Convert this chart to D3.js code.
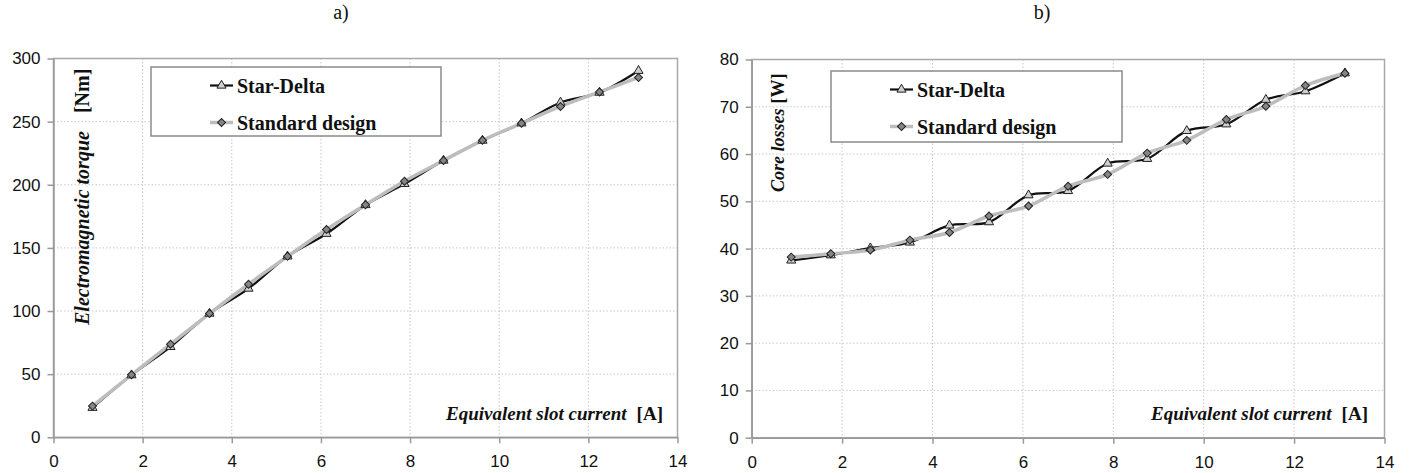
<!DOCTYPE html>
<html>
<head>
<meta charset="utf-8">
<script src="https://cdn.jsdelivr.net/npm/d3@7/dist/d3.min.js"></script>
<style>
  html, body { margin: 0; padding: 0; background: #fff; }
  svg { display: block; }
</style>
</head>
<body>
<svg id="chart" width="1410" height="473"></svg>
<script>
// ---- data ----
const slotCurrent = [0.875, 1.75, 2.625, 3.5, 4.375, 5.25, 6.125, 7.0, 7.875, 8.75, 9.625, 10.5, 11.375, 12.25, 13.125];
const torqueStarDelta = [23.4, 49.2, 71.6, 98.0, 117.8, 143.3, 161.2, 184.0, 200.7, 219.2, 235.0, 248.7, 265.2, 273.0, 290.3];
const torqueStandard  = [24.7, 49.5, 73.7, 98.0, 121.2, 143.3, 164.6, 184.2, 202.8, 219.2, 235.2, 248.7, 262.0, 273.5, 285.0];
const lossStarDelta = [37.5, 38.6, 40.1, 41.3, 44.9, 45.6, 51.3, 52.2, 58.0, 59.0, 64.9, 66.3, 71.5, 73.3, 77.1];
const lossStandard  = [38.2, 38.9, 39.7, 41.8, 43.4, 46.9, 49.0, 53.2, 55.7, 60.2, 62.9, 67.3, 70.1, 74.5, 77.1];
const xTicks = [0, 2, 4, 6, 8, 10, 12, 14];
const torqueTicks = [0, 50, 100, 150, 200, 250, 300];
const lossTicks = [0, 10, 20, 30, 40, 50, 60, 70, 80];
const seriesNames = ["Star-Delta", "Standard design"];
const panelTitles = ["a)", "b)"];
const yTitles = [["Electromagnetic torque", "[Nm]"], ["Core losses", "[W]"]];
const xTitle = ["Equivalent slot current", "[A]"];

// ---- layout ----
const panels = [
  { title: panelTitles[0], titleX: 341, x0: 53.5, x1: 677.5, yTop: 58.5, yBot: 437.3,
    ticks: torqueTicks, sd: torqueStarDelta, st: torqueStandard, yTitle: yTitles[0], yTitleSize: 20, yGap: 18,
    yTitleX: 89, yTitleY: 325, legend: { x: 151, y: 67, w: 290, h: 69 }, xTitleEnd: 663 },
  { title: panelTitles[1], titleX: 1042, x0: 751.7, x1: 1384.5, yTop: 59.5, yBot: 437.7,
    ticks: lossTicks, sd: lossStarDelta, st: lossStandard, yTitle: yTitles[1], yTitleSize: 18, yGap: 5,
    yTitleX: 784, yTitleY: 192, legend: { x: 831, y: 71, w: 291, h: 71 }, xTitleEnd: 1368 }
];

const svg = d3.select("#chart");
svg.append("rect").attr("width", 1410).attr("height", 473).attr("fill", "#fff");

const serif = "'Liberation Serif', 'Times New Roman', serif";
const sans = "'Liberation Sans', Arial, sans-serif";

const triSym = d3.symbol().type(d3.symbolTriangle).size(36);
const diaSym = d3.symbol().type(d3.symbolSquare).size(32);

function drawTri(g, x, y) {
  g.append("path").attr("d", triSym()).attr("transform", `translate(${x},${y})`)
    .attr("fill", "#cfcfcf").attr("stroke", "#222").attr("stroke-width", 1);
}
function drawDia(g, x, y) {
  g.append("path").attr("d", diaSym()).attr("transform", `translate(${x},${y}) rotate(45)`)
    .attr("fill", "#858585").attr("stroke", "#222").attr("stroke-width", 1);
}

panels.forEach(p => {
  const g = svg.append("g");
  const x = d3.scaleLinear().domain([0, 14]).range([p.x0, p.x1]);
  const y = d3.scaleLinear().domain([0, p.ticks[p.ticks.length - 1]]).range([p.yBot, p.yTop]);

  // title
  g.append("text").attr("x", p.titleX).attr("y", 19).attr("text-anchor", "middle")
    .attr("font-family", serif).attr("font-size", 20).attr("fill", "#111").text(p.title);

  // grid
  const grid = g.append("g").attr("stroke", "#c8c8c8").attr("stroke-width", 1).attr("stroke-dasharray", "1.5,2");
  xTicks.slice(1, -1).forEach(t => grid.append("line").attr("x1", x(t)).attr("x2", x(t)).attr("y1", p.yTop).attr("y2", p.yBot));
  p.ticks.slice(1, -1).forEach(t => grid.append("line").attr("x1", p.x0).attr("x2", p.x1).attr("y1", y(t)).attr("y2", y(t)));

  // plot border
  g.append("rect").attr("x", p.x0).attr("y", p.yTop).attr("width", p.x1 - p.x0).attr("height", p.yBot - p.yTop)
    .attr("fill", "none").attr("stroke", "#a8a8a8").attr("stroke-width", 1.5);

  // axes
  const xAxis = d3.axisBottom(x).tickValues(xTicks).tickSizeOuter(0).tickSizeInner(6).tickPadding(12).tickFormat(d3.format("d"));
  const yAxis = d3.axisLeft(y).tickValues(p.ticks).tickSizeOuter(0).tickSizeInner(6).tickPadding(7).tickFormat(d3.format("d"));
  const gx = g.append("g").attr("transform", `translate(0,${p.yBot})`).call(xAxis);
  const gy = g.append("g").attr("transform", `translate(${p.x0},0)`).call(yAxis);
  [gx, gy].forEach(a => {
    a.select(".domain").attr("stroke", "#999").attr("stroke-width", 1.5);
    a.selectAll(".tick line").attr("stroke", "#999").attr("stroke-width", 1.5);
    a.selectAll(".tick text").attr("font-family", sans).attr("font-size", 17).attr("fill", "#111");
  });

  // lines
  const line = d3.line().x((d, i) => x(slotCurrent[i])).y(d => y(d)).curve(d3.curveCatmullRom.alpha(0.5));
  g.append("path").datum(p.sd).attr("d", line).attr("fill", "none").attr("stroke", "#111").attr("stroke-width", 2.2);
  g.append("path").datum(p.st).attr("d", line).attr("fill", "none").attr("stroke", "#bdbdbd").attr("stroke-width", 3.5);
  p.sd.forEach((v, i) => drawTri(g, x(slotCurrent[i]), y(v)));
  p.st.forEach((v, i) => drawDia(g, x(slotCurrent[i]), y(v)));

  // y title
  const yt = g.append("text").attr("transform", `translate(${p.yTitleX},${p.yTitleY}) rotate(-90)`)
    .attr("font-family", serif).attr("font-size", p.yTitleSize).attr("font-weight", "bold").attr("fill", "#111");
  yt.append("tspan").attr("font-style", "italic").text(p.yTitle[0]);
  yt.append("tspan").attr("dx", p.yGap).text(p.yTitle[1]);

  // x title
  const xt = g.append("text").attr("x", p.xTitleEnd).attr("y", 420).attr("text-anchor", "end")
    .attr("font-family", serif).attr("font-size", 19).attr("font-weight", "bold").attr("fill", "#111");
  xt.append("tspan").attr("font-style", "italic").text(xTitle[0]);
  xt.append("tspan").attr("dx", 10).text(xTitle[1]);

  // legend
  const L = p.legend;
  const lg = g.append("g");
  lg.append("rect").attr("x", L.x).attr("y", L.y).attr("width", L.w).attr("height", L.h)
    .attr("fill", "#fff").attr("stroke", "#8a8a8a").attr("stroke-width", 1.5);
  const lx0 = L.x + 59, lx1 = L.x + 82, rows = [L.y + 18.5, L.y + 55.5];
  lg.append("line").attr("x1", lx0).attr("x2", lx1).attr("y1", rows[0]).attr("y2", rows[0]).attr("stroke", "#111").attr("stroke-width", 2.2);
  drawTri(lg, (lx0 + lx1) / 2, rows[0]);
  lg.append("line").attr("x1", lx0).attr("x2", lx1).attr("y1", rows[1]).attr("y2", rows[1]).attr("stroke", "#bdbdbd").attr("stroke-width", 3.5);
  drawDia(lg, (lx0 + lx1) / 2, rows[1]);
  seriesNames.forEach((n, i) => {
    lg.append("text").attr("x", lx1 + 4).attr("y", rows[i] + 7.5)
      .attr("font-family", serif).attr("font-size", 20).attr("font-weight", "bold").attr("fill", "#111").text(n);
  });
});
</script>
</body>
</html>
